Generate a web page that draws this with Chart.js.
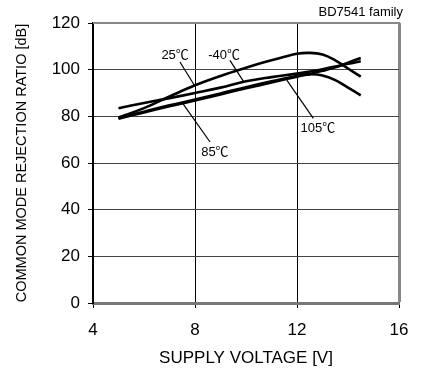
<!DOCTYPE html>
<html>
<head>
<meta charset="utf-8" />
<title>CMRR vs supply voltage</title>
<style>
  html, body { margin: 0; padding: 0; background: #fff; }
  #wrap { width: 426px; height: 376px; }
</style>
</head>
<body>
<div id="wrap"><canvas id="myChart" width="426" height="376"></canvas></div>
<script src="https://cdn.jsdelivr.net/npm/chart.js@4/dist/chart.umd.min.js"></script>
<script>
    // supply voltage [V]
    var voltage = [5, 6, 7, 8, 9, 10, 11, 12, 12.5, 13, 13.5, 14, 14.5];

    // CMRR [dB] per temperature
    var cmrr25 = [79.5, 83.5, 88.5, 93.3, 97.3, 100.8, 104, 106.8, 107.2, 106.5, 104, 100.5, 97];
    var cmrrM40 = [83.5, 85.7, 87.8, 90, 92.3, 95, 96.8, 98.3, 99.2, 100.2, 101.3, 102.5, 103.6];
    var cmrr85 = [79, 81.7, 84.3, 86.8, 89.4, 92, 94.5, 97, 98.2, 99.5, 101, 103, 105];
    var cmrr105 = [79.3, 82, 84.7, 87.2, 89.8, 92.5, 95, 97.3, 98, 97.5, 95.5, 92.3, 89];

    var xTicks = [4, 8, 12, 16];
    var yTicks = [0, 20, 40, 60, 80, 100, 120];

    // temperature labels: text position and leader line (volts, dB)
    var tempLabels = [
        { text: '25℃', x: 7.22, y: 106.2, from: [7.41, 103.3], to: [8.0, 92.9] },
        { text: '-40℃', x: 9.14, y: 106.2, from: [9.37, 104.0], to: [9.9, 95.0] },
        { text: '105℃', x: 12.82, y: 74.9, from: [12.64, 79.1], to: [11.6, 95.5] },
        { text: '85℃', x: 8.78, y: 64.6, from: [8.59, 69.0], to: [7.54, 85.2] }
    ];

    var FONT = "'Liberation Sans', Arial, 'Noto Sans CJK JP', sans-serif";

    function points(ys) {
        return voltage.map(function (v, i) { return { x: v, y: ys[i] }; });
    }

    function curve(label, ys) {
        return {
            label: label,
            data: points(ys),
            borderColor: '#000',
            borderWidth: 2.6,
            pointRadius: 0,
            tension: 0.4,
            fill: false
        };
    }

    // frame, temperature labels and the family note
    var decorations = {
        id: 'decorations',
        afterDatasetsDraw: function (chart) {
            var ctx = chart.ctx;
            var xs = chart.scales.x, ys = chart.scales.y;
            var a = chart.chartArea;
            ctx.save();
            // top border
            ctx.strokeStyle = '#888';
            ctx.lineWidth = 2;
            ctx.beginPath();
            ctx.moveTo(a.left, a.top);
            ctx.lineTo(a.right + 1, a.top);
            ctx.stroke();

            ctx.font = '13px ' + FONT;
            ctx.fillStyle = '#000';
            ctx.textAlign = 'center';
            ctx.textBaseline = 'middle';
            tempLabels.forEach(function (l) {
                ctx.fillText(l.text, xs.getPixelForValue(l.x), ys.getPixelForValue(l.y));
                ctx.strokeStyle = '#000';
                ctx.lineWidth = 1.2;
                ctx.beginPath();
                ctx.moveTo(xs.getPixelForValue(l.from[0]), ys.getPixelForValue(l.from[1]));
                ctx.lineTo(xs.getPixelForValue(l.to[0]), ys.getPixelForValue(l.to[1]));
                ctx.stroke();
            });

            ctx.font = '13px ' + FONT;
            ctx.textAlign = 'right';
            ctx.fillText('BD7541 family', 403, 12);
            ctx.restore();
        }
    };

    var context = document.getElementById('myChart').getContext('2d');
    var chart = new Chart(context, {
        type: 'line',
        data: {
            datasets: [
                curve('25℃', cmrr25),
                curve('-40℃', cmrrM40),
                curve('85℃', cmrr85),
                curve('105℃', cmrr105)
            ]
        },
        options: {
            responsive: false,
            animation: false,
            events: [],
            layout: { padding: { left: 0, top: 23, right: 27, bottom: 0 } },
            plugins: {
                legend: { display: false },
                tooltip: { enabled: false }
            },
            scales: {
                x: {
                    type: 'linear',
                    min: 4,
                    max: 16,
                    afterFit: function (s) { s.height = 73; },
                    afterBuildTicks: function (s) {
                        s.ticks = xTicks.map(function (v) { return { value: v }; });
                    },
                    ticks: {
                        color: '#000',
                        padding: 12,
                        maxRotation: 0,
                        font: { family: FONT, size: 17 }
                    },
                    grid: {
                        color: function (c) { return c.tick && c.tick.value === 16 ? '#888' : '#000'; },
                        lineWidth: function (c) { return c.tick && c.tick.value === 16 ? 3 : 1; },
                        tickColor: '#000',
                        tickWidth: 1,
                        tickLength: 5
                    },
                    border: { color: '#777', width: 3 },
                    title: {
                        display: true,
                        text: 'SUPPLY VOLTAGE [V]',
                        color: '#000',
                        font: { family: FONT, size: 17 },
                        padding: { top: 0, bottom: 7 }
                    }
                },
                y: {
                    min: 0,
                    max: 120,
                    afterFit: function (s) { s.width = 93; },
                    afterBuildTicks: function (s) {
                        s.ticks = yTicks.map(function (v) { return { value: v }; });
                    },
                    ticks: {
                        color: '#000',
                        padding: 8,
                        font: { family: FONT, size: 17 }
                    },
                    grid: {
                        color: function (c) { return c.tick && c.tick.value === 120 ? '#888' : '#444'; },
                        lineWidth: 1,
                        tickColor: '#000',
                        tickWidth: 1,
                        tickLength: 5
                    },
                    border: { color: '#000', width: 2 },
                    title: {
                        display: true,
                        text: 'COMMON MODE REJECTION RATIO [dB]',
                        color: '#000',
                        font: { family: FONT, size: 14.5 },
                        padding: { top: 13, bottom: 0 }
                    }
                }
            }
        },
        plugins: [decorations]
    });
</script>
</body>
</html>
